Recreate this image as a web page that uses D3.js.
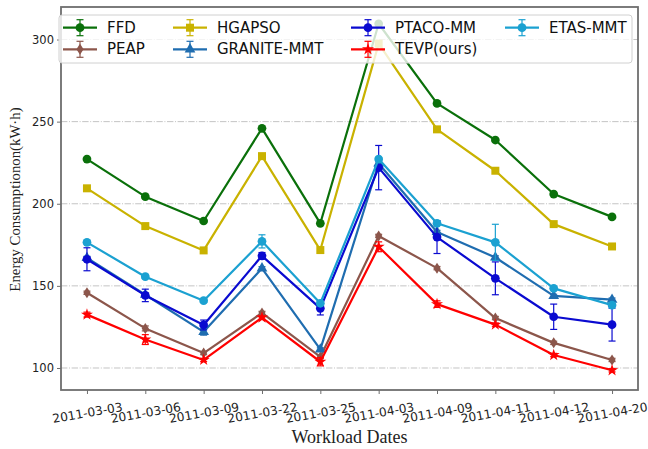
<!DOCTYPE html>
<html>
<head>
<meta charset="utf-8">
<script src="https://cdn.jsdelivr.net/npm/d3@7"></script>
<style>
  html, body { margin: 0; padding: 0; background: #fff; }
  svg { display: block; }
</style>
</head>
<body>
<svg id="chart" width="648" height="449"></svg>
<script>
// ---- data ----
const dates = ["2011-03-03","2011-03-06","2011-03-09","2011-03-22","2011-03-25","2011-04-03","2011-04-09","2011-04-11","2011-04-12","2011-04-20"];
const yTicks = [100, 150, 200, 250, 300];
const seriesNames = ["FFD","PEAP","HGAPSO","GRANITE-MMT","PTACO-MM","TEVP(ours)","ETAS-MMT"];
const ffd     = [227.2, 204.3, 189.5, 245.9, 188.1, 309.6, 261.1, 238.8, 205.9, 192.0];
const peap    = [145.8, 124.1, 109.1, 133.5, 106.7, 180.4, 160.8, 130.4, 115.3, 104.9];
const hgapso  = [209.4, 186.4, 171.6, 229.0, 171.8, 297.5, 245.3, 220.1, 187.6, 174.0];
const granite = [167.0, 144.6, 122.0, 160.7, 111.3, 224.5, 182.8, 167.3, 143.9, 141.6];
const ptaco   = [166.2, 144.2, 126.2, 168.3, 136.3, 222.0, 179.7, 154.6, 131.2, 126.4];
const tevp    = [132.5, 117.3, 104.9, 130.7, 103.8, 173.8, 138.9, 126.4, 107.9,  98.6];
const etas    = [176.5, 155.6, 141.0, 177.1, 139.4, 227.2, 188.1, 176.5, 148.5, 138.3];
// error bar half-widths
const ffdErr     = [0, 0, 0, 0, 0, 0, 0, 0, 0, 0];
const peapErr    = [1, 1.5, 1, 1, 1, 1, 1, 1, 1, 1];
const hgapsoErr  = [0, 0, 0, 0, 0, 0, 0, 0, 0, 0];
const graniteErr = [1, 1, 2, 1, 1, 1, 1, 1, 1, 1];
const ptacoErr   = [7, 3.8, 3, 2, 4, 13.5, 10, 10, 7.7, 10];
const tevpErr    = [1.5, 3, 1, 1, 2.5, 3, 2, 1, 1, 1];
const etasErr    = [1, 1, 1, 4, 1, 1, 1, 11, 1, 1];

// ---- styles ----
const styles = {
  "FFD":         {color: "#0a700a", marker: "circle"},
  "PEAP":        {color: "#8c564b", marker: "diamond"},
  "HGAPSO":      {color: "#c9b200", marker: "square"},
  "GRANITE-MMT": {color: "#1f6db0", marker: "triangle"},
  "PTACO-MM":    {color: "#0a0ad0", marker: "circle"},
  "TEVP(ours)":  {color: "#ff0000", marker: "star"},
  "ETAS-MMT":    {color: "#1ba1d1", marker: "circle"}
};
const values = {"FFD": ffd, "PEAP": peap, "HGAPSO": hgapso, "GRANITE-MMT": granite, "PTACO-MM": ptaco, "TEVP(ours)": tevp, "ETAS-MMT": etas};
const errs = {"FFD": ffdErr, "PEAP": peapErr, "HGAPSO": hgapsoErr, "GRANITE-MMT": graniteErr, "PTACO-MM": ptacoErr, "TEVP(ours)": tevpErr, "ETAS-MMT": etasErr};

const svg = d3.select("#chart");
const L = 61, R = 638, T = 7, B = 390;

const x = d3.scalePoint().domain(dates).range([L, R]).padding(0.445);
const y = d3.scaleLinear().domain([86.6, 319.8]).range([B, T]);

// grid
svg.append("g").selectAll("line").data(yTicks).join("line")
  .attr("x1", L).attr("x2", R)
  .attr("y1", d => y(d)).attr("y2", d => y(d))
  .attr("stroke", "#c4c4c4").attr("stroke-width", 1)
  .attr("stroke-dasharray", "6.4,1.6,1,1.6");

function markerPath(type) {
  switch (type) {
    case "circle": return d3.symbol(d3.symbolCircle, 60)();
    case "square": return d3.symbol(d3.symbolSquare, 64)();
    case "triangle": return d3.symbol(d3.symbolTriangle, 50)();
    case "star": return d3.symbol(d3.symbolStar, 45)();
    case "diamond": return "M0,-5.5L3.6,0L0,5.5L-3.6,0Z";
  }
}

const line = d3.line().x((d, i) => x(dates[i])).y(d => y(d));
const plot = svg.append("g");

seriesNames.forEach(name => {
  const st = styles[name];
  const vals = values[name];
  const er = errs[name];
  const g = plot.append("g");
  g.append("path").datum(vals).attr("d", line)
    .attr("fill", "none").attr("stroke", st.color).attr("stroke-width", 2.2)
    .attr("stroke-linejoin", "round");
  // error bars
  const eb = g.append("g").attr("stroke", st.color).attr("stroke-width", 1.2);
  vals.forEach((v, i) => {
    if (!er[i]) return;
    const cx = x(dates[i]);
    eb.append("line").attr("x1", cx).attr("x2", cx).attr("y1", y(v - er[i])).attr("y2", y(v + er[i]));
    eb.append("line").attr("x1", cx - 3.5).attr("x2", cx + 3.5).attr("y1", y(v - er[i])).attr("y2", y(v - er[i]));
    eb.append("line").attr("x1", cx - 3.5).attr("x2", cx + 3.5).attr("y1", y(v + er[i])).attr("y2", y(v + er[i]));
  });
  g.append("g").selectAll("path").data(vals).join("path")
    .attr("d", markerPath(st.marker))
    .attr("transform", (d, i) => `translate(${x(dates[i])},${y(d)})`)
    .attr("fill", st.color);
});

// axes frame
svg.append("rect").attr("x", L).attr("y", T).attr("width", R - L).attr("height", B - T)
  .attr("fill", "none").attr("stroke", "#6e6e6e").attr("stroke-width", 1.8);

// y axis
const yAxis = svg.append("g").attr("transform", `translate(${L},0)`)
  .call(d3.axisLeft(y).tickValues(yTicks).tickSize(4).tickPadding(3));
yAxis.select(".domain").remove();
yAxis.selectAll(".tick line").attr("stroke", "#6e6e6e").attr("stroke-width", 1);
yAxis.selectAll(".tick text").attr("font-family", "DejaVu Sans").attr("font-size", "11.5px").attr("fill", "#222");

// x axis
const xAxis = svg.append("g").attr("transform", `translate(0,${B})`)
  .call(d3.axisBottom(x).tickSize(4));
xAxis.select(".domain").remove();
xAxis.selectAll(".tick line").attr("stroke", "#6e6e6e").attr("stroke-width", 1);
xAxis.selectAll(".tick text")
  .attr("font-family", "DejaVu Sans").attr("font-size", "12.2px").attr("fill", "#222")
  .attr("text-anchor", "middle").attr("dominant-baseline", "central")
  .attr("y", 0).attr("dy", null)
  .attr("transform", "translate(0,23) rotate(-10)");

// axis labels
svg.append("text").attr("x", (L + R) / 2).attr("y", 443)
  .attr("text-anchor", "middle").attr("font-family", "Liberation Serif").attr("font-size", "18px")
  .attr("fill", "#222").text("Workload Dates");
svg.append("text").attr("transform", `translate(19.5,${(T + B) / 2 + 1}) rotate(-90)`)
  .attr("text-anchor", "middle").attr("font-family", "Liberation Serif").attr("font-size", "14.8px")
  .attr("fill", "#222").text("Energy Consumptionon(kW·h)");

// legend
const leg = svg.append("g");
leg.append("rect").attr("x", 59).attr("y", 15).attr("width", 573).attr("height", 48).attr("rx", 3)
  .attr("fill", "#fff").attr("fill-opacity", 0.8).attr("stroke", "#d0d0d0").attr("stroke-width", 1);
const colX = [63, 173, 351, 505];
const rowY = [27.7, 49.3];
seriesNames.forEach((name, k) => {
  const c = Math.floor(k / 2), r = k % 2;
  const x0 = colX[c], yy = rowY[r];
  const st = styles[name];
  const g = leg.append("g");
  g.append("line").attr("x1", x0).attr("x2", x0 + 34).attr("y1", yy).attr("y2", yy)
    .attr("stroke", st.color).attr("stroke-width", 2.2);
  const cx = x0 + 17;
  g.append("line").attr("x1", cx).attr("x2", cx).attr("y1", yy - 8).attr("y2", yy + 8).attr("stroke", st.color).attr("stroke-width", 1.2);
  g.append("line").attr("x1", cx - 3.5).attr("x2", cx + 3.5).attr("y1", yy - 8).attr("y2", yy - 8).attr("stroke", st.color).attr("stroke-width", 1.2);
  g.append("line").attr("x1", cx - 3.5).attr("x2", cx + 3.5).attr("y1", yy + 8).attr("y2", yy + 8).attr("stroke", st.color).attr("stroke-width", 1.2);
  g.append("path").attr("d", markerPath(st.marker)).attr("transform", `translate(${cx},${yy})`).attr("fill", st.color);
  g.append("text").attr("x", x0 + 44).attr("y", yy).attr("dominant-baseline", "central")
    .attr("font-family", "DejaVu Sans").attr("font-size", "15px").attr("fill", "#111").text(name);
});
</script>
</body>
</html>
